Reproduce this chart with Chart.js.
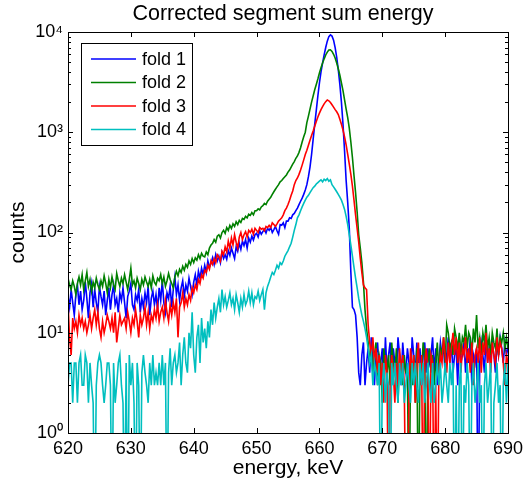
<!DOCTYPE html>
<html>
<head>
<meta charset="utf-8">
<title>Corrected segment sum energy</title>
<script src="https://cdn.jsdelivr.net/npm/chart.js@4.4.1/dist/chart.umd.min.js"></script>
<style>
  html, body { margin: 0; padding: 0; background: #fff; }
</style>
</head>
<body>
<canvas id="myChart" width="529" height="486"></canvas>
<script>
const ctx = document.getElementById('myChart');

// binning of the spectrum (keV)
const binStart = 620;
const binWidth = 0.25;

const xTicks = [620, 630, 640, 650, 660, 670, 680, 690];
const yTicks = [1, 10, 100, 1000, 10000];

const seriesNames = ['fold 1', 'fold 2', 'fold 3', 'fold 4'];
const seriesColors = ['#0000ff', '#008000', '#ff0000', '#00bfbf'];

// counts per bin, one row = 5 keV
const fold1 = [
  23,18,27,20, 15,24,30,19, 26,17,21,32, 22,14,25,31, 18,27,20,16,
  29,23,19,26, 15,21,28,17, 24,30,19,22, 16,25,21,28, 20,14,23,26,
  31,19,17,24, 21,27,16,22, 18,25,20,29, 15,22,26,19, 24,17,28,21,
  33,20,16,25, 22,29,18,27, 36,24,30,21, 28,33,23,30, 26,35,29,24,
  32,38,30,41, 35,44,38,47, 40,52,45,49, 56,48,60,52, 58,50,63,55,
  60,54,66,59, 70,62,55,72, 65,78,68,82, 74,85,70,88, 80,92,84,95,
  98,90,104,96, 102,108,99,110, 105,112,100,107, 115,104,96,120, 118,125,112,130,
  130,140,138,150, 155,165,175,190, 205,220,240,265, 300,360,450,600, 850,1200,1650,2300,
  3100,4000,4900,5900, 7000,8100,9000,9350, 9100,8300,7000,5600, 4200,3000,2000,1200, 650,330,200,110,
  40,18,17,15, 9,4,3,6, 8,3,5,7, 4,9,5,3, 6,8,4,5,
  7,3,9,4, 6,8,3,7, 5,4,9,6, 3,8,5,4, 7,5,3,9,
  6,4,8,5, 7,3,6,8, 4,7,5,6, 9,4,7,3, 5,8,6,7,
  4,6,9,5, 8,4,6,7, 3,9,5,6, 8,4,7,5, 9,3,6,5,
  7,0,5,8, 6,4,9,5, 7,5,8,6, 4,8,6,9, 7,5,8,6,
  7
];

const fold2 = [
  35,30,27,33, 29,24,31,36, 30,38,27,33, 40,29,34,26, 32,28,35,30,
  27,33,29,37, 31,25,34,28, 36,30,27,39, 33,29,35,31, 38,32,27,34,
  44,30,33,28, 35,31,27,34, 30,36,32,29, 34,28,37,32, 30,35,33,38,
  31,36,29,33, 39,34,31,28, 36,41,37,43, 40,46,42,48, 45,52,48,55,
  50,56,53,60, 55,62,58,57, 64,60,70,75, 78,85,80,92, 95,88,100,105,
  98,112,105,118, 110,122,115,128, 120,132,126,138, 135,145,140,152, 148,158,150,165,
  165,172,168,180, 185,195,190,205, 215,225,240,255, 270,285,300,320, 330,345,360,375,
  400,420,450,480, 510,550,580,630, 700,800,900,1000, 1250,1450,1700,2000, 2300,2650,3000,3400,
  3900,4400,4900,5400, 5900,6300,6600,6650, 6400,6000,5500,4900, 4300,3700,3100,2600, 2100,1700,1400,1100,
  800,560,370,250, 160,95,70,50, 32,17,11,8, 5,7,4,6, 8,3,6,5,
  2,7,5,4, 6,3,8,5, 4,7,2,6, 5,3,6,4, 4,0,5,3,
  6,2,7,0, 5,4,8,6, 0,5,7,4, 6,3,5,8, 4,7,6,9,
  5,12,10,7, 8,6,11,9, 7,10,6,9, 8,12,7,10, 9,6,11,8,
  15,7,9,6, 10,8,12,7, 9,6,10,8, 7,11,6,9, 8,10,7,9,
  7
];

const fold3 = [
  20,9,6,14, 11,13,10,15, 12,14,11,13, 10,12,15,11, 14,17,12,16,
  11,9,13,10, 12,15,13,11, 14,10,16,8, 11,15,12,13, 14,11,16,13,
  10,14,12,17, 13,9,15,12, 14,18,12,16, 11,15,13,17, 14,19,13,16,
  18,14,21,16, 13,19,15,20, 16,22,9,18, 20,25,18,22, 19,24,21,28,
  25,30,27,34, 31,38,35,42, 40,47,43,52, 48,55,50,60, 57,52,65,60,
  72,64,82,70, 88,75,95,80, 70,90,100,85, 95,102,90,105, 100,108,96,110,
  105,100,112,108, 110,104,115,112, 118,112,125,120, 115,122,130,135, 140,150,165,175,
  190,210,235,260, 300,330,350,380, 420,470,530,600, 660,740,830,930, 1030,1150,1280,1420,
  1550,1680,1800,1920, 2020,2100,2060,1980, 1880,1780,1680,1600, 1500,1350,1200,1050, 900,750,600,480,
  380,290,210,150, 110,80,55,40, 30,28,27,12, 8,6,9,5, 7,4,6,3,
  5,2,6,4, 0,3,6,4, 2,5,3,7, 4,6,3,0, 0,3,7,4,
  6,2,5,8, 3,6,0,5, 7,4,0,6, 5,0,3,0, 4,6,5,9,
  6,4,8,5, 7,10,6,9, 5,8,4,7, 6,9,5,7, 4,8,3,6,
  7,5,9,4, 8,6,10,5, 7,4,8,6, 5,9,6,8, 7,5,3,6,
  5
];

const fold4 = [
  3,5,5,2, 5,5,2,5, 6,3,3,6, 5,2,5,3, 2,0,3,5,
  6,5,3,2, 3,5,5,3, 0,5,2,3, 5,6,3,2, 0,5,0,6,
  3,5,2,0, 5,3,0,4, 6,4,3,2, 5,3,6,3, 4,3,5,3,
  6,3,5,0, 4,7,3,5, 6,4,5,8, 3,6,9,5, 4,10,7,16,
  6,4,9,12, 5,14,8,11, 7,13,9,17, 12,20,14,18, 22,16,27,19,
  23,18,21,25, 19,22,17,24, 20,16,22,18, 24,19,21,26, 20,25,19,23,
  22,26,21,24, 27,17,25,29, 32,36,40,38, 42,47,44,50, 48,52,58,62,
  66,72,78,90, 105,120,140,150, 165,180,195,210, 225,235,250,265, 280,290,305,315,
  325,335,320,340, 330,345,325,335, 300,285,270,255, 240,225,210,190, 170,145,120,95,
  75,58,45,35, 28,22,18,15, 13,11,9,7, 5,6,3,5, 4,3,5,0,
  3,5,2,4, 3,0,5,3, 5,3,2,5, 3,5,2,3, 5,3,2,5,
  3,5,3,2, 5,3,5,2, 3,5,3,2, 5,2,3,5, 3,5,2,3,
  5,3,2,5, 3,5,0,3, 0,3,5,0, 3,2,5,3, 0,3,5,2,
  3,5,2,3, 0,3,5,2, 3,5,0,2, 3,5,2,3, 0,3,5,2,
  5
];

const allFolds = [fold1, fold2, fold3, fold4];

// empty bins fall below the log axis, like the original plot
const emptyBin = 0.1;

const energies = fold1.map((_, i) => binStart + i * binWidth);

const datasets = allFolds.map((counts, k) => ({
  label: seriesNames[k],
  data: counts.map((c, i) => ({ x: energies[i], y: c > 0 ? c : emptyBin })),
  borderColor: seriesColors[k],
  borderWidth: 1.6,
  pointRadius: 0,
  tension: 0,
  order: 4 - k
}));

const sup = { 0: '\u2070', 1: '\u00b9', 2: '\u00b2', 3: '\u00b3', 4: '\u2074' };
const fontFamily = '"Liberation Sans", Arial, Helvetica, sans-serif';

// title, box with inward ticks and the legend, like matlab draws them
const matlabFrame = {
  id: 'matlabFrame',
  afterDraw(chart) {
    const c = chart.ctx;
    const a = chart.chartArea;
    const xs = chart.scales.x;
    const ys = chart.scales.y;
    c.save();

    c.fillStyle = '#000';
    c.font = '21.5px ' + fontFamily;
    c.textAlign = 'center';
    c.textBaseline = 'middle';
    c.fillText('Corrected segment sum energy', 283, 14);

    c.strokeStyle = '#000';
    c.lineWidth = 1;
    c.strokeRect(a.left + 0.5, a.top + 0.5, a.right - a.left, a.bottom - a.top);

    c.beginPath();
    xTicks.forEach(v => {
      const px = Math.round(xs.getPixelForValue(v)) + 0.5;
      c.moveTo(px, a.bottom); c.lineTo(px, a.bottom - 5);
      c.moveTo(px, a.top); c.lineTo(px, a.top + 5);
    });
    yTicks.forEach(d => {
      for (let m = 1; m <= 9; m++) {
        const v = d * m;
        if (v > yTicks[yTicks.length - 1]) break;
        const len = m === 1 ? 5 : 3;
        const py = Math.round(ys.getPixelForValue(v)) + 0.5;
        c.moveTo(a.left, py); c.lineTo(a.left + len, py);
        c.moveTo(a.right, py); c.lineTo(a.right - len, py);
      }
    });
    c.stroke();

    // legend
    const lx = 81, ly = 43, lw = 111, lh = 102;
    c.fillStyle = '#fff';
    c.fillRect(lx, ly, lw, lh);
    c.strokeStyle = '#000';
    c.strokeRect(lx + 0.5, ly + 0.5, lw, lh);
    c.font = '18px ' + fontFamily;
    c.textAlign = 'left';
    c.textBaseline = 'middle';
    seriesNames.forEach((name, k) => {
      const rowY = 59 + k * 23.5;
      c.strokeStyle = seriesColors[k];
      c.lineWidth = 1.6;
      c.beginPath();
      c.moveTo(91, rowY); c.lineTo(136, rowY);
      c.stroke();
      c.fillStyle = '#000';
      c.fillText(name, 142, rowY + 1);
    });

    c.restore();
  }
};

new Chart(ctx, {
  type: 'line',
  data: { datasets: datasets },
  options: {
    responsive: false,
    animation: false,
    layout: { padding: { top: 32, right: 21, bottom: 0, left: 0 } },
    plugins: {
      legend: { display: false },
      title: { display: false },
      tooltip: { enabled: false }
    },
    scales: {
      x: {
        type: 'linear',
        min: 620,
        max: 690,
        afterBuildTicks: s => { s.ticks = xTicks.map(v => ({ value: v })); },
        afterFit: s => { s.height = 53; },
        grid: { display: false, drawTicks: false },
        border: { display: false },
        ticks: {
          color: '#000',
          padding: 5,
          maxRotation: 0,
          font: { size: 18, family: fontFamily }
        },
        title: {
          display: true,
          text: 'energy, keV',
          color: '#000',
          padding: { top: 0, bottom: 5 },
          font: { size: 21, family: fontFamily }
        }
      },
      y: {
        type: 'logarithmic',
        min: 1,
        max: 10000,
        afterBuildTicks: s => { s.ticks = yTicks.map(v => ({ value: v })); },
        afterFit: s => { s.width = 68; },
        grid: { display: false, drawTicks: false },
        border: { display: false },
        ticks: {
          color: '#000',
          padding: 5,
          font: { size: 18, family: fontFamily },
          callback: v => '10' + sup[Math.round(Math.log10(v))]
        },
        title: {
          display: true,
          text: 'counts',
          color: '#000',
          padding: { top: 6, bottom: 0 },
          font: { size: 21, family: fontFamily }
        }
      }
    }
  },
  plugins: [matlabFrame]
});
</script>
</body>
</html>
